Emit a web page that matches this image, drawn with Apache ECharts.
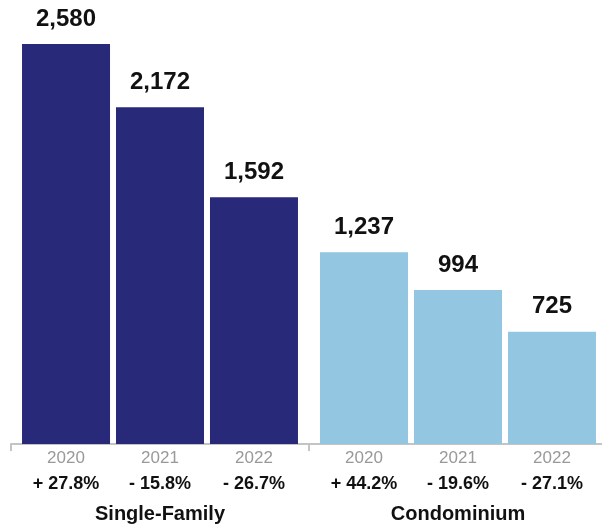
<!DOCTYPE html>
<html lang="en">
<head>
    <meta charset="UTF-8">
    <title>Sales by Property Type</title>
    <script src="https://cdn.jsdelivr.net/npm/echarts@6/dist/echarts.min.js"></script>
    <style>
        html, body { margin: 0; padding: 0; background: #fff; }
    </style>
</head>
<body>
    <div id="main" style="width: 602px;height:530px;"></div>
    <script type="text/javascript">
        // chart data
        const groups = ['Single-Family', 'Condominium'];
        const years = ['2020', '2021', '2022'];
        const singleFamily = [2580, 2172, 1592];
        const condominium = [1237, 994, 725];
        const singleFamilyChange = ['+ 27.8%', '- 15.8%', '- 26.7%'];
        const condominiumChange = ['+ 44.2%', '- 19.6%', '- 27.1%'];

        const groupColors = ['#29297a', '#93c6e1'];
        const font = 'Liberation Sans, Arial, Helvetica, sans-serif';

        const myChart = echarts.init(document.getElementById('main'));

        const series = [];
        years.forEach((year, i) => {
            const changes = [singleFamilyChange[i], condominiumChange[i]];
            // zero-height bar that only carries the year / change label under the axis
            series.push({
                name: year + ' label',
                type: 'bar',
                stack: year,
                barWidth: 88,
                barGap: '6.8%',
                silent: true,
                itemStyle: { color: 'transparent' },
                data: [0, 0],
                label: {
                    show: true,
                    position: 'bottom',
                    distance: 1,
                    formatter: p => '{y|' + year + '}\n{p|' + changes[p.dataIndex] + '}',
                    rich: {
                        y: { fontFamily: font, fontSize: 17, color: '#999999', lineHeight: 26 },
                        p: { fontFamily: font, fontSize: 18, fontWeight: 'bold', color: '#111', lineHeight: 26 }
                    }
                }
            });
            series.push({
                name: year,
                type: 'bar',
                stack: year,
                barWidth: 88,
                barGap: '6.8%',
                data: [singleFamily[i], condominium[i]].map((v, g) => ({
                    value: v,
                    itemStyle: { color: groupColors[g] }
                })),
                label: {
                    show: true,
                    position: 'top',
                    distance: 13,
                    fontFamily: font,
                    fontSize: 24,
                    fontWeight: 'bold',
                    color: '#111',
                    formatter: p => p.value.toLocaleString('en-US')
                }
            });
        });

        const option = {
            animation: false,
            grid: {
                left: 11, width: 596, top: 10, bottom: 86,
                containLabel: false,
                outerBoundsMode: 'none'
            },
            xAxis: {
                type: 'category',
                data: groups,
                axisLine: { lineStyle: { color: '#c4c4c4', width: 2 } },
                axisTick: { show: true, length: 7, lineStyle: { color: '#c4c4c4', width: 2 } },
                axisLabel: {
                    margin: 60,
                    fontFamily: font,
                    fontSize: 20,
                    fontWeight: 'bold',
                    color: '#111'
                }
            },
            yAxis: {
                type: 'value',
                min: 0,
                max: 2800,
                show: false,
                splitLine: { show: false }
            },
            series: series
        };

        myChart.setOption(option);
    </script>
</body>
</html>
